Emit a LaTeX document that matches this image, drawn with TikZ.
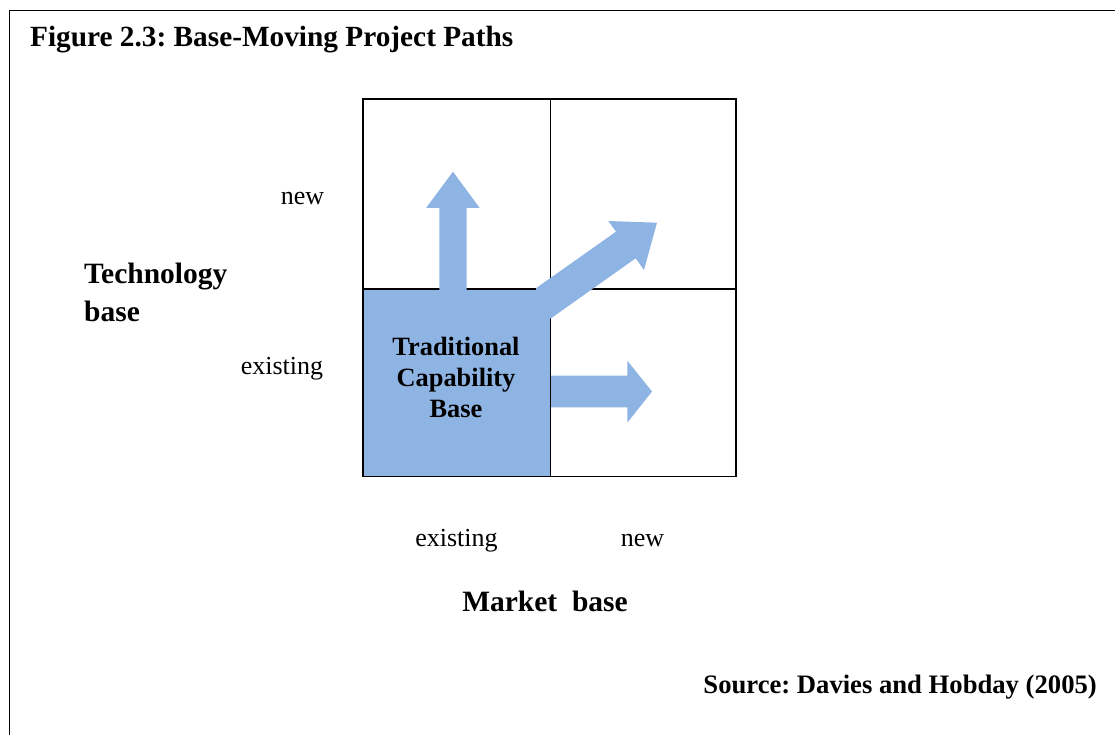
\documentclass[tikz,border=0pt]{standalone}
\usepackage{fontspec}
\setmainfont{Liberation Serif}
\definecolor{capblue}{RGB}{142,180,227}
\frenchspacing
\begin{document}
\begin{tikzpicture}[x=1pt,y=-1pt,
  lbl/.style={inner sep=0pt, anchor=base},
  reg/.style={lbl, font=\fontsize{26}{31}\selectfont},
  bigb/.style={lbl, font=\fontsize{29.5}{38}\selectfont\bfseries},
  boxb/.style={lbl, font=\fontsize{26.4}{31}\selectfont\bfseries},
  gridline/.style={line width=1.4pt, black},
  arrowshape/.style={fill=capblue, draw=none}]
\useasboundingbox (0,0) rectangle (1115,735);
% outer frame
\draw[line width=1.8pt] (9.5,735) -- (9.5,10.5) -- (1115,10.5);
% title
\node[lbl, anchor=base west, font=\fontsize{29.3}{32}\selectfont\bfseries] (title) at (30,46.7) {Figure 2.3: Base-Moving Project Paths};
% traditional capability base square
\fill[capblue] (363,289) rectangle (550.3,476.5);
% right arrow (under grid line)
\fill[arrowshape] (550,375.7) -- (627.3,375.7) -- (627.3,360.7) -- (652,391.5) -- (627.3,422.7) -- (627.3,407.3) -- (550,407.3) -- cycle;
% grid
\draw[gridline] (363,99) rectangle (736,476.5);
\draw[gridline] (550.3,99) -- (550.3,476.5);
\draw[gridline] (363,289) -- (736,289);
% up arrow
\fill[arrowshape] (439.3,290) -- (439.3,208) -- (426,208) -- (453,171.7) -- (479.7,208) -- (466.7,208) -- (466.7,290) -- cycle;
% diagonal arrow
\fill[arrowshape] (536,288.2) -- (616,231.7) -- (608.3,221) -- (657,222.7) -- (644,270) -- (635.7,258.3) -- (551,318.3) -- (536,318.3) -- cycle;
% box text
\node[boxb] (tcb1) at (456,355.7) {Traditional};
\node[boxb] (tcb2) at (456,386) {Capability};
\node[boxb] (tcb3) at (456,417.7) {Base};
% axis labels
\node[reg] (tnew) at (302.5,205) {new};
\node[reg] (texist) at (282,374) {existing};
\node[bigb, anchor=base west] (tech1) at (84,283.3) {Technology};
\node[bigb, anchor=base west] (tech2) at (84,321.7) {base};
\node[reg] (mexist) at (456.5,546.7) {existing};
\node[reg] (mnew) at (642.5,546.7) {new};
\node[bigb] (market) at (545,611.7) {Market\ \ base};
\node[lbl, anchor=base east, font=\fontsize{26.65}{31}\selectfont\bfseries] (source) at (1097,693.3) {Source: Davies and Hobday (2005)};
\end{tikzpicture}
\end{document}
